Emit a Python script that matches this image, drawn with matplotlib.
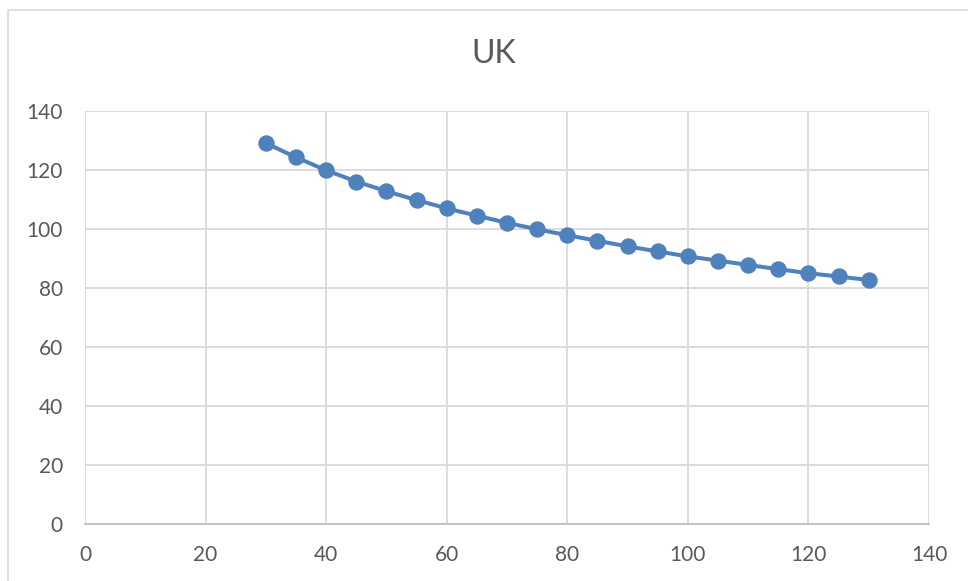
import matplotlib
matplotlib.use("Agg")
import matplotlib.pyplot as plt
from matplotlib.patches import Rectangle

plt.rcParams['font.family'] = ['Lato', 'DejaVu Sans']

x_values = [30, 35, 40, 45, 50, 55, 60, 65, 70, 75, 80, 85, 90, 95, 100,
            105, 110, 115, 120, 125, 130]
y_values = [129.1, 124.3, 119.9, 116.1, 112.8, 109.8, 107.0, 104.5, 102.1, 99.9,
            97.9, 96.0, 94.1, 92.4, 90.7, 89.3, 87.8, 86.4, 85.0, 83.9, 82.7]
title = "UK"
x_ticks = [0, 20, 40, 60, 80, 100, 120, 140]
y_ticks = [0, 20, 40, 60, 80, 100, 120, 140]

W, H = 968, 581
fig = plt.figure(figsize=(W / 100, H / 100), dpi=100)
fig.patch.set_facecolor('white')

# chart area border (cropped screenshot)
fig.patches.append(Rectangle((8 / W, -0.1), 1.2, (H - 10) / H + 0.1,
                             transform=fig.transFigure, fill=False,
                             edgecolor='#D9D9D9', linewidth=1.2))

ax = fig.add_axes([85 / W, 1 - 524 / H, (929 - 85) / W, (524 - 111) / H])
ax.plot(x_values, y_values, color='#4F81BD', linewidth=2.9, marker='o',
        markersize=10.8, markerfacecolor='#4F81BD', markeredgecolor='#4F81BD',
        zorder=3, solid_capstyle='round')

ax.set_xlim(0, 140)
ax.set_ylim(0, 140)
ax.set_xticks(x_ticks)
ax.set_yticks(y_ticks)
ax.grid(True, color='#D9D9D9', linewidth=1.3)
ax.set_axisbelow(True)
for s in ['left', 'right', 'top']:
    ax.spines[s].set_visible(False)
ax.spines['bottom'].set_color('#BFBFBF')
ax.spines['bottom'].set_linewidth(1.3)
ax.tick_params(axis='both', length=0, labelsize=15, labelcolor='#595959')
ax.tick_params(axis='x', pad=15)
ax.tick_params(axis='y', pad=16)

fig.text(493.5 / W, 1 - 54 / H, title, ha='center', va='center', fontsize=23,
         color='#595959')

fig.savefig('out.png', dpi=100, facecolor='white')
